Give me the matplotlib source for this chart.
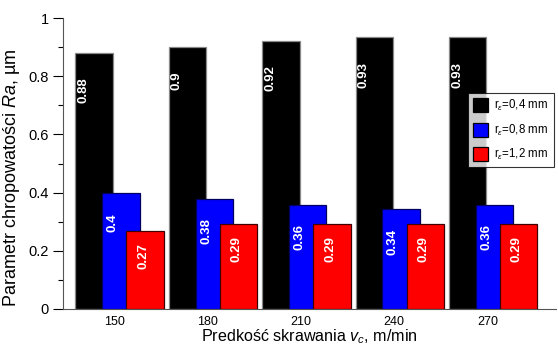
import matplotlib
matplotlib.use("Agg")
import matplotlib.pyplot as plt
import numpy as np

plt.rcParams['font.family'] = ['Liberation Sans', 'DejaVu Sans']
plt.rcParams['mathtext.fontset'] = 'custom'
plt.rcParams['mathtext.rm'] = 'Liberation Sans'
plt.rcParams['mathtext.it'] = 'Liberation Sans:italic'

speeds = [150, 180, 210, 240, 270]
ra_04 = [0.88, 0.90, 0.92, 0.933, 0.933]
ra_08 = [0.397, 0.378, 0.359, 0.342, 0.359]
ra_12 = [0.267, 0.292, 0.292, 0.292, 0.292]
lab_04 = ["0.88", "0.9", "0.92", "0.93", "0.93"]
lab_08 = ["0.4", "0.38", "0.36", "0.34", "0.36"]
lab_12 = ["0.27", "0.29", "0.29", "0.29", "0.29"]
series_names = [r"r$_\varepsilon$=0,4 mm", r"r$_\varepsilon$=0,8 mm", r"r$_\varepsilon$=1,2 mm"]

fig = plt.figure(figsize=(5.58, 3.47), dpi=100)
ax = fig.add_axes([63/558, 1-309/347, 493/558, 291/347])

x = np.array(speeds, dtype=float)
w = 12.0
specs = [
    (ra_04, lab_04, -6.4, 'black', '#888888', -9.8, 0.083),
    (ra_08, lab_08, 2.2, '#0000ff', '#000060', -0.4, 0.067),
    (ra_12, lab_12, 10.0, '#ff0000', '#400000', 9.4, 0.041),
]
handles = []
for (vals, labs, off, col, ec, loff, voff), name in zip(specs, series_names):
    b = ax.bar(x + off, vals, width=w, color=col, edgecolor=ec, linewidth=0.9, label=name)
    handles.append(b)
    for xi, v, s in zip(x, vals, labs):
        ax.text(xi + loff, v - voff, s, rotation=90, ha='center', va='top',
                color='white', fontsize=9.5, fontweight='bold')

ax.set_xlim(133.6, 292)
ax.set_ylim(0, 1)
ax.set_xticks(speeds)
ax.set_xticklabels([str(s) for s in speeds], fontsize=9)
ax.tick_params(axis='x', length=0, pad=5)
ax.set_yticks([0, 0.2, 0.4, 0.6, 0.8, 1.0])
ax.set_yticklabels(["0", "0.2", "0.4", "0.6", "0.8", "1"], fontsize=10.5)
ax.set_yticks([0.1, 0.3, 0.5, 0.7, 0.9], minor=True)
ax.tick_params(axis='y', which='major', length=7, width=0.8, direction='out', pad=3)
ax.tick_params(axis='y', which='minor', length=3.6, width=0.8, direction='out')
for sp in ['top', 'right']:
    ax.spines[sp].set_visible(False)
ax.spines['left'].set_color('#555555')
ax.spines['bottom'].set_color('#555555')

ax.set_ylabel(r"Parametr chropowatości $\mathit{Ra}$, µm", fontsize=13)
ax.yaxis.set_label_coords(-0.083, 0.45)
ax.set_xlabel(r"Predkość skrawania $\mathit{v}_{c}$, m/min", fontsize=11.6)
ax.xaxis.label.set_verticalalignment('baseline')
ax.xaxis.set_label_coords(0.5, -0.11)

leg = ax.legend(handles=handles, loc='upper left', bbox_to_anchor=(0.822, 0.742),
                fontsize=8.3, frameon=True, fancybox=False, handlelength=1.3,
                handleheight=1.5, borderpad=0.45, labelspacing=0.8, handletextpad=0.5,
                borderaxespad=0)
leg.get_frame().set_edgecolor('black')
leg.get_frame().set_linewidth(0.8)
for p in leg.get_patches():
    p.set_edgecolor('black')

fig.savefig("out.png", dpi=100)
